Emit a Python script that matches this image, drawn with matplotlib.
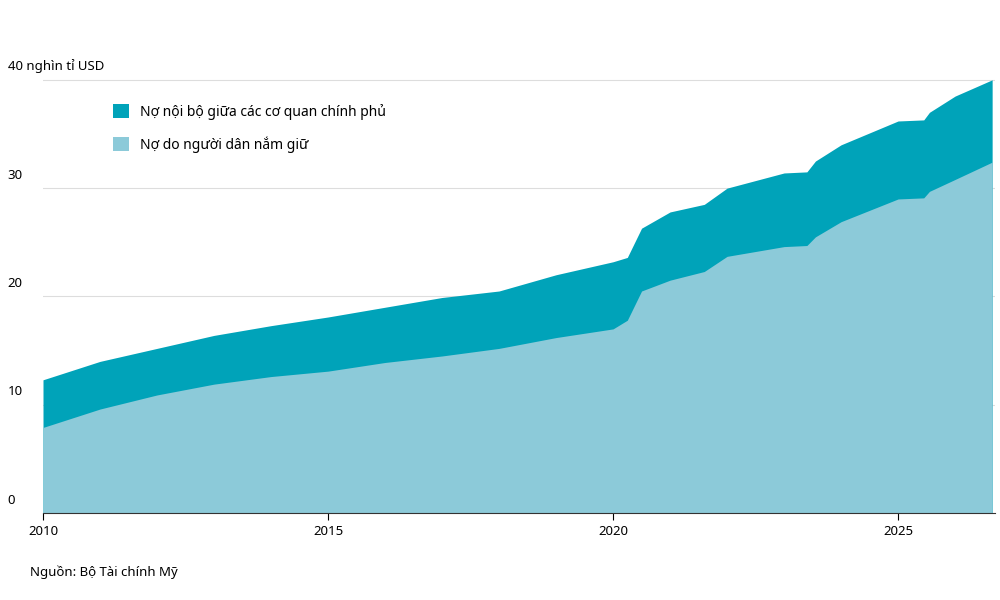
import matplotlib.pyplot as plt

plt.rcParams['font.family'] = ['Noto Sans', 'DejaVu Sans']

years = [2010, 2011, 2012, 2013, 2014, 2015, 2016, 2017, 2018, 2019, 2020.0, 2020.25, 2020.5,
         2021, 2021.6, 2022, 2023, 2023.4, 2023.55, 2024, 2025, 2025.45, 2025.55, 2026, 2026.65]
total = [12.3, 14.0, 15.2, 16.4, 17.3, 18.1, 19.0, 19.9, 20.5, 22.0, 23.2, 23.6, 26.3,
         27.8, 28.5, 30.0, 31.4, 31.5, 32.5, 34.0, 36.2, 36.3, 37.0, 38.5, 40.0]
public = [7.9, 9.6, 10.9, 11.9, 12.6, 13.1, 13.9, 14.5, 15.2, 16.2, 17.0, 17.8, 20.5,
          21.5, 22.3, 23.7, 24.6, 24.7, 25.5, 26.9, 29.0, 29.1, 29.7, 30.8, 32.4]
xticks = [2010, 2015, 2020, 2025]
yticks = [0, 10, 20, 30, 40]

dark = '#00a3b9'
light = '#8ccad9'

fig = plt.figure(figsize=(10, 6), dpi=100)
ax = fig.add_axes([0.043, 0.145, 0.952, 0.74])

ax.fill_between(years, 0, total, color=dark, lw=0, label='Nợ nội bộ giữa các cơ quan chính phủ')
ax.fill_between(years, 0, public, color=light, lw=0, label='Nợ do người dân nắm giữ')

ax.set_xlim(2010, 2026.7)
ax.set_ylim(0, 41.0)
for y in yticks[1:]:
    ax.axhline(y, color='#dddddd', lw=0.8, zorder=0)
ax.set_yticks([])
ax.set_xticks(xticks)
ax.tick_params(axis='x', length=5, labelsize=9.5)
for s in ['top', 'right', 'left']:
    ax.spines[s].set_visible(False)
ax.spines['bottom'].set_color('#333333')

for y in yticks:
    lab = '40 nghìn tỉ USD' if y == 40 else str(y)
    ax.text(-0.037, y + 0.6, lab, transform=ax.get_yaxis_transform(), fontsize=9.5, va='bottom', ha='left')

ax.legend(loc='upper left', bbox_to_anchor=(0.06, 0.95), frameon=False, fontsize=10,
          handlelength=1.2, handleheight=1.2, labelspacing=1.2)

fig.text(0.03, 0.04, 'Nguồn: Bộ Tài chính Mỹ', fontsize=9.5)
fig.savefig('out.png')
